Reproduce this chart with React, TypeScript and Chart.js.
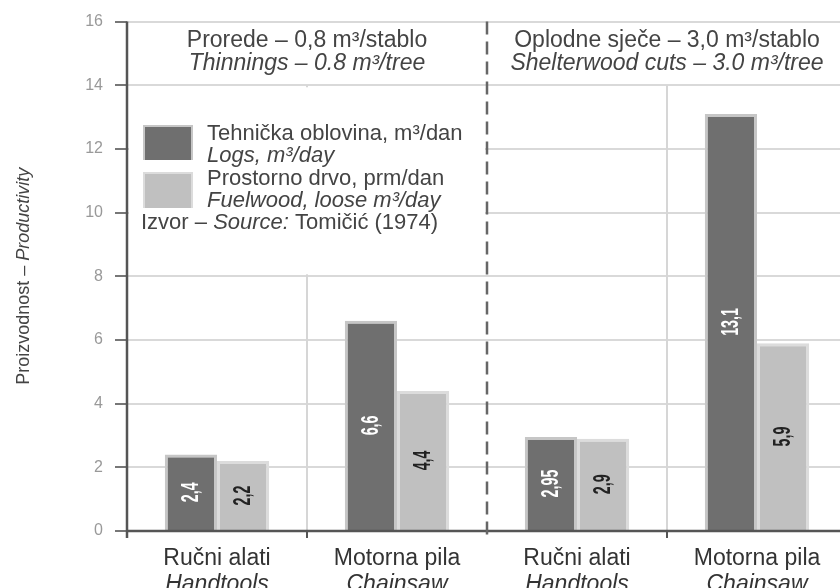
import { useEffect, useRef } from 'react';
import { Chart, registerables } from 'chart.js';

Chart.register(...registerables);

const categoriesHr = ['Ručni alati', 'Motorna pila', 'Ručni alati', 'Motorna pila'];
const categoriesEn = ['Handtools', 'Chainsaw', 'Handtools', 'Chainsaw'];
const logsValues = [2.4, 6.6, 2.95, 13.1];
const fuelwoodValues = [2.2, 4.4, 2.9, 5.9];
const yTicks = [0, 2, 4, 6, 8, 10, 12, 14, 16];
const groupTitlesHr = ['Prorede – 0,8 m³/stablo', 'Oplodne sječe – 3,0 m³/stablo'];
const groupTitlesEn = ['Thinnings – 0.8 m³/tree', 'Shelterwood cuts – 3.0 m³/tree'];
const seriesNamesHr = ['Tehnička oblovina, m³/dan', 'Prostorno drvo, prm/dan'];
const seriesNamesEn = ['Logs, m³/day', 'Fuelwood, loose m³/day'];
const sourceRuns = [
  { t: 'Izvor – ', i: false },
  { t: 'Source:', i: true },
  { t: ' Tomičić (1974)', i: false },
];
const yTitleRuns = [
  { t: 'Proizvodnost – ', i: false },
  { t: 'Productivity', i: true },
];

const FONT = '"Liberation Sans", Arial, Helvetica, sans-serif';
const DARK = '#6f6f6f';
const LIGHT = '#c0c0c0';
const DARK_BORDER = '#c6c6c6';
const LIGHT_BORDER = '#dcdcdc';

type Run = { t: string; i: boolean };

function font(size: number, italic: boolean) {
  return `${italic ? 'italic ' : ''}${size}px ${FONT}`;
}

function drawRuns(ctx: CanvasRenderingContext2D, runs: Run[], x: number, y: number, size: number, align: 'left' | 'center') {
  let total = 0;
  const widths = runs.map((r) => {
    ctx.font = font(size, r.i);
    const w = ctx.measureText(r.t).width;
    total += w;
    return w;
  });
  let cx = align === 'center' ? x - total / 2 : x;
  ctx.textAlign = 'left';
  runs.forEach((r, k) => {
    ctx.font = font(size, r.i);
    ctx.fillText(r.t, cx, y);
    cx += widths[k];
  });
}

const overlay = {
  id: 'overlay',
  beforeDatasetsDraw(chart: any) {
    const { ctx, chartArea: ca, scales } = chart;
    const x = scales.x;
    const y = scales.y;
    const b = (i: number) => (x.getPixelForValue(i) + x.getPixelForValue(i + 1)) / 2;
    ctx.save();
    ctx.strokeStyle = '#d6d6d6';
    ctx.lineWidth = 2;
    [0, 2].forEach((i) => {
      const px = b(i);
      ctx.beginPath();
      ctx.moveTo(px, y.getPixelForValue(14));
      ctx.lineTo(px, y.getPixelForValue(0));
      ctx.stroke();
    });
    // legend background
    ctx.fillStyle = '#ffffff';
    const top = y.getPixelForValue(14) + 2;
    const bottom = y.getPixelForValue(8) - 2;
    ctx.fillRect(ca.left + 2, top, b(1) - ca.left - 4, bottom - top);
    ctx.restore();
  },
  afterDatasetsDraw(chart: any) {
    const { ctx, chartArea: ca, scales } = chart;
    const x = scales.x;
    const y = scales.y;
    const b = (i: number) => (x.getPixelForValue(i) + x.getPixelForValue(i + 1)) / 2;
    const y0 = y.getPixelForValue(0);
    ctx.save();

    // bar value labels
    chart.data.datasets.forEach((ds: any, di: number) => {
      const meta = chart.getDatasetMeta(di);
      meta.data.forEach((bar: any, i: number) => {
        const v = ds.data[i];
        const cy = (bar.y + bar.base) / 2;
        ctx.save();
        ctx.translate(bar.x, cy);
        ctx.rotate(-Math.PI / 2);
        ctx.scale(0.75, 1.3);
        ctx.font = `bold 19px ${FONT}`;
        ctx.textAlign = 'center';
        ctx.textBaseline = 'middle';
        ctx.fillStyle = di === 0 ? '#ffffff' : '#222222';
        ctx.fillText(String(v).replace('.', ','), 0, 0);
        ctx.restore();
      });
    });

    // axes
    ctx.strokeStyle = '#555555';
    ctx.lineWidth = 2.5;
    ctx.beginPath();
    ctx.moveTo(ca.left, ca.top);
    ctx.lineTo(ca.left, y0 + 7);
    ctx.stroke();
    ctx.beginPath();
    ctx.moveTo(ca.left, y0);
    ctx.lineTo(ca.right + 20, y0);
    ctx.stroke();
    ctx.lineWidth = 2;
    [0, 2].forEach((i) => {
      ctx.beginPath();
      ctx.moveTo(b(i), y0);
      ctx.lineTo(b(i), y0 + 7);
      ctx.stroke();
    });

    // dashed separator
    ctx.strokeStyle = '#666666';
    ctx.lineWidth = 2.5;
    ctx.setLineDash([13, 7]);
    ctx.beginPath();
    ctx.moveTo(b(1), ca.top);
    ctx.lineTo(b(1), y0 + 9);
    ctx.stroke();
    ctx.setLineDash([]);

    // header titles
    ctx.fillStyle = '#444444';
    ctx.textBaseline = 'alphabetic';
    const centers = [(ca.left + b(1)) / 2, (b(1) + b(3)) / 2];
    centers.forEach((cx, k) => {
      drawRuns(ctx, [{ t: groupTitlesHr[k], i: false }], cx, 47, 23, 'center');
      drawRuns(ctx, [{ t: groupTitlesEn[k], i: true }], cx, 70, 23, 'center');
    });

    // legend
    const boxX = 143;
    const boxes = [
      { top: 125, h: 35, fill: DARK, border: DARK_BORDER },
      { top: 172, h: 36, fill: LIGHT, border: LIGHT_BORDER },
    ];
    boxes.forEach((bx) => {
      ctx.fillStyle = bx.border;
      ctx.fillRect(boxX, bx.top, 50, bx.h);
      ctx.fillStyle = bx.fill;
      ctx.fillRect(boxX + 2, bx.top + 2, 46, bx.h - 2);
    });
    ctx.fillStyle = '#444444';
    drawRuns(ctx, [{ t: seriesNamesHr[0], i: false }], 207, 140, 22, 'left');
    drawRuns(ctx, [{ t: seriesNamesEn[0], i: true }], 207, 162, 22, 'left');
    drawRuns(ctx, [{ t: seriesNamesHr[1], i: false }], 207, 185, 22, 'left');
    drawRuns(ctx, [{ t: seriesNamesEn[1], i: true }], 207, 207, 22, 'left');
    drawRuns(ctx, sourceRuns, 141, 229, 22, 'left');

    // x labels
    ctx.fillStyle = '#333333';
    categoriesHr.forEach((c, i) => {
      const cx = x.getPixelForValue(i);
      drawRuns(ctx, [{ t: c, i: false }], cx, 565, 23, 'center');
      drawRuns(ctx, [{ t: categoriesEn[i], i: true }], cx, 591, 23, 'center');
    });

    // y title
    ctx.fillStyle = '#444444';
    ctx.save();
    ctx.translate(29, (ca.top + ca.bottom) / 2);
    ctx.rotate(-Math.PI / 2);
    drawRuns(ctx, yTitleRuns, 0, 0, 18, 'center');
    ctx.restore();

    ctx.restore();
  },
};

export default function App() {
  const ref = useRef<HTMLCanvasElement | null>(null);
  useEffect(() => {
    document.body.style.margin = '0';
    document.body.style.overflow = 'hidden';
    document.documentElement.style.overflow = 'hidden';
    const canvas = ref.current;
    if (!canvas) return;
    const chart = new Chart(canvas, {
      type: 'bar',
      data: {
        labels: categoriesHr,
        datasets: [
          {
            label: seriesNamesHr[0],
            data: logsValues,
            backgroundColor: DARK,
            borderColor: DARK_BORDER,
            borderWidth: 3,
            categoryPercentage: 0.58,
            barPercentage: 1,
          },
          {
            label: seriesNamesHr[1],
            data: fuelwoodValues,
            backgroundColor: LIGHT,
            borderColor: LIGHT_BORDER,
            borderWidth: 3,
            categoryPercentage: 0.58,
            barPercentage: 1,
          },
        ],
      },
      options: {
        responsive: false,
        animation: false,
        layout: { padding: { top: 19, right: 13, left: 0, bottom: 0 } },
        plugins: {
          legend: { display: false },
          tooltip: { enabled: false },
          title: { display: false },
        },
        scales: {
          x: {
            type: 'category',
            offset: true,
            grid: { display: false },
            border: { display: false },
            ticks: { display: false },
            afterFit: (s: any) => {
              s.height = 57;
            },
          },
          y: {
            min: 0,
            max: 16,
            afterBuildTicks: (s: any) => {
              s.ticks = yTicks.map((v) => ({ value: v }));
            },
            ticks: {
              color: '#999999',
              font: { size: 16, family: FONT },
              padding: 12,
            },
            grid: {
              color: '#d9d9d9',
              lineWidth: 2,
              tickLength: 12,
              tickColor: '#777777',
            },
            border: { display: false },
            afterFit: (s: any) => {
              s.width = 127;
            },
          },
        },
      },
      plugins: [overlay],
    } as any);
    return () => chart.destroy();
  }, []);
  return (
    <canvas
      ref={ref}
      width={860}
      height={588}
      style={{ display: 'block', width: 860, height: 588 }}
    />
  );
}
